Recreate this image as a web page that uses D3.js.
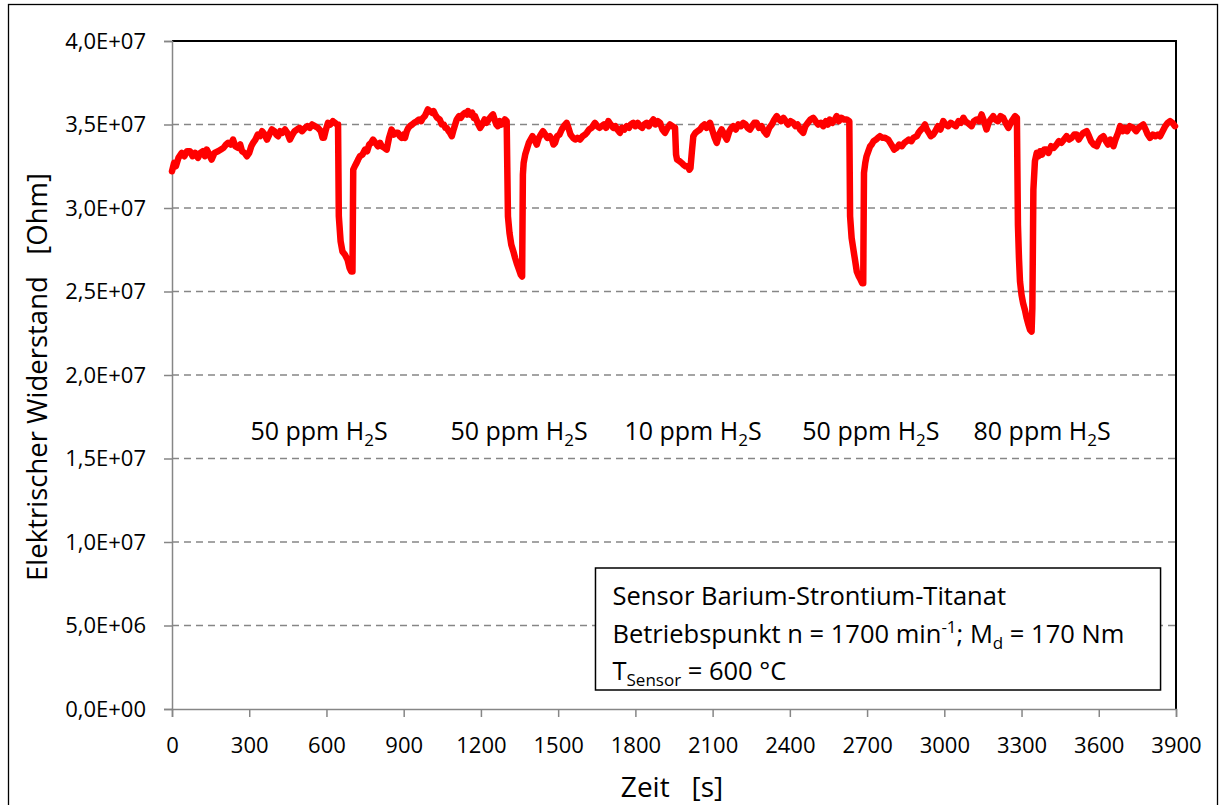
<!DOCTYPE html>
<html>
<head>
<meta charset="utf-8">
<script src="https://cdn.jsdelivr.net/npm/d3@7"></script>
<style>
  html, body { margin: 0; padding: 0; background: #fff; }
  svg { display: block; font-family: "Open Sans", Lato, sans-serif; }
</style>
</head>
<body>
<svg id="chart" width="1224" height="805"></svg>
<script>
// Messzeit in Sekunden
const zeitS = [
  0, 8, 15, 25, 38, 48, 58, 70, 80, 90, 101, 110, 120, 128, 135, 145, 154, 165, 179, 190,
  200, 210, 218, 228, 237, 246, 256, 265, 272, 282, 291, 300, 308, 315, 324, 333, 342, 350, 360, 369,
  378, 388, 398, 405, 412, 420, 428, 439, 448, 458, 468, 476, 486, 495, 505, 517, 526, 535, 544, 555,
  567, 578, 585, 590, 598, 606, 615, 625, 633, 641, 645,
  648, 655, 662, 672, 682, 690, 696, 701, 704, 710, 717, 723, 730, 740, 750, 758, 766, 774, 781, 790,
  800, 808, 815, 825, 834, 843, 853, 862, 870, 878, 885, 892, 900, 905, 912, 918, 924, 933, 941, 951,
  960, 968, 975, 982, 988, 994, 1002, 1010, 1016, 1022, 1030, 1040, 1048, 1056, 1062, 1067, 1075, 1080, 1087, 1094,
  1100, 1106, 1115, 1122, 1130, 1138, 1145, 1150, 1158, 1166, 1172, 1177, 1185, 1190, 1197, 1205, 1214, 1222, 1230, 1240,
  1247, 1255, 1260, 1266, 1273, 1280, 1287, 1293, 1300,
  1305, 1311, 1318, 1326, 1333, 1339, 1348, 1355, 1360, 1363, 1366, 1372, 1378, 1386, 1393, 1400, 1408, 1417, 1425, 1433,
  1441, 1450, 1458, 1468, 1476, 1482, 1488, 1496, 1505, 1514, 1522, 1533, 1540, 1548, 1558, 1566, 1575, 1585, 1595, 1605,
  1611, 1620, 1630, 1643, 1652, 1660, 1669, 1678, 1686, 1695, 1704, 1714, 1722, 1730, 1740, 1748, 1757, 1766, 1775, 1782,
  1792, 1800, 1809, 1818, 1826, 1834, 1844, 1852, 1860, 1870, 1878, 1887, 1896, 1905, 1915, 1925, 1934, 1944, 1954,
  1958, 1962, 1972, 1980, 1986, 1995, 2003, 2010, 2014, 2019, 2025, 2033, 2042, 2051, 2060, 2068, 2077, 2084, 2090, 2100,
  2108, 2116, 2125, 2135, 2142, 2148, 2155, 2165, 2173, 2180, 2190, 2200, 2210, 2219, 2228, 2236, 2245, 2253, 2262, 2271,
  2280, 2290, 2300, 2310, 2320, 2330, 2340, 2349, 2358, 2366, 2375, 2384, 2393, 2403, 2413, 2422, 2430, 2440, 2452, 2460,
  2470, 2480, 2491, 2500, 2510, 2520, 2530, 2540, 2548, 2555, 2565, 2575, 2582, 2590, 2600, 2610, 2621, 2631,
  2634, 2640, 2647, 2652, 2660, 2668, 2675, 2681, 2685, 2688, 2693, 2698, 2705, 2712, 2718, 2725, 2735, 2742, 2750, 2760,
  2770, 2782, 2790, 2798, 2805, 2815, 2825, 2835, 2845, 2854, 2862, 2872, 2880, 2893, 2900, 2910, 2917, 2925, 2932, 2940,
  2948, 2957, 2965, 2975, 2985, 2996, 3005, 3015, 3025, 3035, 3045, 3055, 3065, 3074, 3082, 3090, 3098, 3106, 3115, 3125,
  3135, 3145, 3152, 3158, 3164, 3172, 3180, 3190, 3198, 3208, 3218, 3229, 3238, 3249, 3258, 3266, 3275, 3282,
  3286, 3290, 3294, 3300, 3306, 3313, 3320, 3327, 3333, 3339, 3342, 3346, 3352, 3359, 3366, 3372, 3380, 3388, 3398, 3405,
  3415, 3425, 3436, 3445, 3455, 3465, 3475, 3485, 3495, 3505, 3514, 3522, 3530, 3540, 3553, 3562, 3570, 3580, 3592, 3600,
  3608, 3618, 3628, 3636, 3645, 3657, 3665, 3675, 3683, 3692, 3700, 3710, 3720, 3734, 3745, 3755, 3763, 3773, 3782, 3790,
  3799, 3810, 3820, 3830, 3838, 3848, 3858, 3868, 3877, 3886, 3896
];

// Elektrischer Widerstand in 10^7 Ohm
const widerstandE7 = [
  3.22, 3.27, 3.25, 3.30, 3.33, 3.31, 3.34, 3.34, 3.31, 3.33, 3.30, 3.33, 3.34, 3.31, 3.35, 3.32, 3.29, 3.33, 3.34, 3.35,
  3.36, 3.38, 3.39, 3.38, 3.41, 3.37, 3.36, 3.38, 3.34, 3.33, 3.31, 3.33, 3.37, 3.39, 3.41, 3.44, 3.43, 3.46, 3.44, 3.41,
  3.44, 3.47, 3.46, 3.44, 3.43, 3.46, 3.45, 3.47, 3.45, 3.41, 3.44, 3.46, 3.47, 3.48, 3.46, 3.48, 3.49, 3.48, 3.50, 3.49,
  3.48, 3.46, 3.42, 3.42, 3.47, 3.51, 3.50, 3.52, 3.51, 3.50, 3.50,
  2.95, 2.80, 2.74, 2.72, 2.69, 2.64, 2.62, 2.62, 3.23, 3.25, 3.27, 3.29, 3.31, 3.32, 3.35, 3.34, 3.38, 3.39, 3.41, 3.39,
  3.37, 3.39, 3.37, 3.36, 3.35, 3.42, 3.47, 3.44, 3.45, 3.45, 3.43, 3.42, 3.44, 3.42, 3.46, 3.48, 3.49, 3.50, 3.51, 3.52,
  3.53, 3.52, 3.54, 3.55, 3.57, 3.59, 3.58, 3.57, 3.58, 3.56, 3.54, 3.53, 3.50, 3.50, 3.48, 3.48, 3.46, 3.45, 3.43, 3.47,
  3.50, 3.53, 3.55, 3.54, 3.56, 3.57, 3.56, 3.58, 3.56, 3.57, 3.54, 3.55, 3.52, 3.50, 3.48, 3.50, 3.53, 3.51, 3.53, 3.55,
  3.56, 3.52, 3.50, 3.49, 3.52, 3.50, 3.51, 3.53, 3.52,
  2.95, 2.85, 2.78, 2.74, 2.70, 2.67, 2.63, 2.60, 2.59, 3.20, 3.27, 3.32, 3.35, 3.39, 3.41, 3.43, 3.41, 3.38, 3.42, 3.44,
  3.46, 3.44, 3.42, 3.43, 3.41, 3.38, 3.39, 3.43, 3.44, 3.47, 3.49, 3.51, 3.48, 3.44, 3.42, 3.41, 3.42, 3.41, 3.43, 3.44,
  3.45, 3.47, 3.48, 3.51, 3.49, 3.48, 3.49, 3.50, 3.48, 3.52, 3.50, 3.48, 3.49, 3.47, 3.45, 3.48, 3.47, 3.49, 3.48, 3.50,
  3.51, 3.49, 3.51, 3.49, 3.48, 3.50, 3.51, 3.49, 3.51, 3.53, 3.50, 3.52, 3.51, 3.47, 3.45, 3.48, 3.50, 3.49, 3.48,
  3.32, 3.29, 3.28, 3.27, 3.26, 3.25, 3.25, 3.23, 3.24, 3.33, 3.43, 3.45, 3.46, 3.47, 3.49, 3.50, 3.48, 3.50, 3.51, 3.46,
  3.42, 3.39, 3.44, 3.47, 3.45, 3.43, 3.41, 3.46, 3.48, 3.49, 3.47, 3.50, 3.49, 3.51, 3.50, 3.48, 3.47, 3.49, 3.51, 3.51,
  3.48, 3.49, 3.46, 3.44, 3.48, 3.50, 3.53, 3.55, 3.53, 3.52, 3.54, 3.52, 3.50, 3.52, 3.51, 3.49, 3.50, 3.47, 3.45, 3.49,
  3.51, 3.53, 3.54, 3.52, 3.50, 3.51, 3.49, 3.52, 3.50, 3.53, 3.51, 3.53, 3.55, 3.52, 3.54, 3.53, 3.53, 3.52,
  2.95, 2.82, 2.75, 2.70, 2.62, 2.59, 2.57, 2.55, 2.55, 3.21, 3.27, 3.31, 3.34, 3.37, 3.38, 3.40, 3.41, 3.42, 3.43, 3.42,
  3.42, 3.41, 3.39, 3.37, 3.35, 3.36, 3.38, 3.37, 3.39, 3.40, 3.41, 3.40, 3.42, 3.43, 3.45, 3.47, 3.48, 3.50, 3.47, 3.45,
  3.43, 3.44, 3.46, 3.49, 3.47, 3.52, 3.50, 3.49, 3.51, 3.50, 3.49, 3.52, 3.51, 3.54, 3.52, 3.51, 3.50, 3.49, 3.52, 3.53,
  3.52, 3.56, 3.53, 3.50, 3.47, 3.51, 3.53, 3.55, 3.53, 3.52, 3.55, 3.54, 3.51, 3.48, 3.51, 3.53, 3.55, 3.54,
  2.90, 2.70, 2.56, 2.48, 2.43, 2.39, 2.34, 2.30, 2.27, 2.26, 2.40, 3.11, 3.28, 3.33, 3.31, 3.34, 3.32, 3.35, 3.35, 3.33,
  3.37, 3.36, 3.38, 3.40, 3.39, 3.41, 3.43, 3.41, 3.42, 3.44, 3.44, 3.41, 3.43, 3.45, 3.46, 3.43, 3.40, 3.38, 3.37, 3.40,
  3.42, 3.43, 3.40, 3.38, 3.41, 3.37, 3.41, 3.45, 3.49, 3.46, 3.48, 3.46, 3.49, 3.48, 3.46, 3.48, 3.49, 3.50, 3.47, 3.44,
  3.42, 3.44, 3.43, 3.44, 3.43, 3.46, 3.49, 3.51, 3.52, 3.51, 3.49
];

// Achsenbeschriftungen
const xTicks = [0, 300, 600, 900, 1200, 1500, 1800, 2100, 2400, 2700, 3000, 3300, 3600, 3900];
const yTicks = [0, 0.5, 1.0, 1.5, 2.0, 2.5, 3.0, 3.5, 4.0];

// Beschriftung der Gasphasen (Konzentration, Mittelpunkt in s)
const gasKonz = ["50", "50", "10", "50", "80"];
const gasZeit = [571, 1348, 2024, 2715, 3380];

const infoZeilen = [
  [{ t: "Sensor Barium-Strontium-Titanat" }],
  [{ t: "Betriebspunkt n = 1700 min" }, { t: "-1", sup: true }, { t: "; M" }, { t: "d", sub: true }, { t: " = 170 Nm" }],
  [{ t: "T" }, { t: "Sensor", sub: true }, { t: " = 600 °C" }]
];

const svg = d3.select("#chart");
const plot = { left: 172, right: 1176, top: 41, bottom: 709 };

const x = d3.scaleLinear().domain([0, 3900]).range([plot.left, plot.right]);
const y = d3.scaleLinear().domain([0, 4]).range([plot.bottom, plot.top]);

// Außenrahmen des Diagramms
svg.append("rect")
  .attr("x", 8.5).attr("y", 4.5).attr("width", 1209).attr("height", 820)
  .attr("fill", "none").attr("stroke", "#000").attr("stroke-width", 1.3);

// Gitterlinien (gestrichelt)
svg.append("g")
  .selectAll("line")
  .data(yTicks.filter(d => d > 0 && d < 4))
  .join("line")
  .attr("x1", plot.left).attr("x2", plot.right)
  .attr("y1", d => y(d)).attr("y2", d => y(d))
  .attr("stroke", "#868686").attr("stroke-width", 1.5)
  .attr("stroke-dasharray", "7,5");

// Rahmen oben und rechts
svg.append("path")
  .attr("d", `M${plot.left},${plot.top}H${plot.right}V${plot.bottom}`)
  .attr("fill", "none").attr("stroke", "#000").attr("stroke-width", 2);

// Exponentialschreibweise mit Dezimalkomma, z. B. 3,5E+07
function sciLabel(v) {
  const d = v * 1e7;
  if (d === 0) return "0,0E+00";
  const e = Math.floor(Math.log10(d) + 1e-9);
  const m = d / Math.pow(10, e);
  return m.toFixed(1).replace(".", ",") + "E+" + String(e).padStart(2, "0");
}

// Y-Achse
const yAxis = svg.append("g")
  .attr("transform", `translate(${plot.left},0)`)
  .call(d3.axisLeft(y).tickValues(yTicks).tickSize(8).tickPadding(18).tickFormat(sciLabel));
yAxis.select(".domain").attr("stroke", "#868686").attr("stroke-width", 1.5);
yAxis.selectAll(".tick line").attr("stroke", "#868686").attr("stroke-width", 1.5);
yAxis.selectAll(".tick text")
  .attr("font-family", "'Open Sans', sans-serif").attr("font-size", 22).attr("fill", "#000");

// X-Achse
const xAxis = svg.append("g")
  .attr("transform", `translate(0,${plot.bottom})`)
  .call(d3.axisBottom(x).tickValues(xTicks).tickSize(8).tickPadding(20).tickFormat(d3.format("d")));
xAxis.select(".domain").attr("stroke", "#868686").attr("stroke-width", 1.5);
xAxis.selectAll(".tick line").attr("stroke", "#868686").attr("stroke-width", 1.5);
xAxis.selectAll(".tick text")
  .attr("font-family", "'Open Sans', sans-serif").attr("font-size", 22).attr("fill", "#000");

// Messkurve
const line = d3.line()
  .x((d, i) => x(zeitS[i]))
  .y(d => y(d));
svg.append("path")
  .datum(widerstandE7)
  .attr("d", line)
  .attr("fill", "none")
  .attr("stroke", "#ff0000")
  .attr("stroke-width", 6.5)
  .attr("stroke-linejoin", "round")
  .attr("stroke-linecap", "round");

// Achsentitel
svg.append("text")
  .attr("x", (plot.left + plot.right) / 2 - 2).attr("y", 797)
  .attr("text-anchor", "middle").attr("font-size", 28)
  .attr("xml:space", "preserve")
  .text("Zeit   [s]");

svg.append("text")
  .attr("transform", `translate(47,${(plot.top + plot.bottom) / 2 + 2}) rotate(-90)`)
  .attr("text-anchor", "middle").attr("font-size", 27.5)
  .attr("xml:space", "preserve")
  .text("Elektrischer Widerstand   [Ohm]");

// Gas-Beschriftungen
const gasLabels = svg.append("g").attr("font-size", 25);
gasKonz.forEach((k, i) => {
  const t = gasLabels.append("text")
    .attr("x", x(gasZeit[i])).attr("y", 440)
    .attr("text-anchor", "middle");
  t.append("tspan").text(`${k} ppm H`);
  t.append("tspan").attr("font-size", 17).attr("dy", 6).text("2");
  t.append("tspan").attr("dy", -6).text("S");
});

// Infokasten
const box = { x0: x(1645), y0: 568, x1: x(3840), y1: 690 };
svg.append("rect")
  .attr("x", box.x0).attr("y", box.y0)
  .attr("width", box.x1 - box.x0).attr("height", box.y1 - box.y0)
  .attr("fill", "#fff").attr("stroke", "#000").attr("stroke-width", 1.5);

infoZeilen.forEach((zeile, i) => {
  const t = svg.append("text")
    .attr("x", box.x0 + 17).attr("y", box.y0 + 37 + i * 37.5)
    .attr("font-size", 25.5);
  let shift = 0;
  zeile.forEach(seg => {
    const ts = t.append("tspan").text(seg.t);
    let target = 0;
    if (seg.sub) { ts.attr("font-size", 17); target = 6; }
    if (seg.sup) { ts.attr("font-size", 17); target = -10; }
    if (target !== shift) { ts.attr("dy", target - shift); shift = target; }
  });
});
</script>
</body>
</html>
